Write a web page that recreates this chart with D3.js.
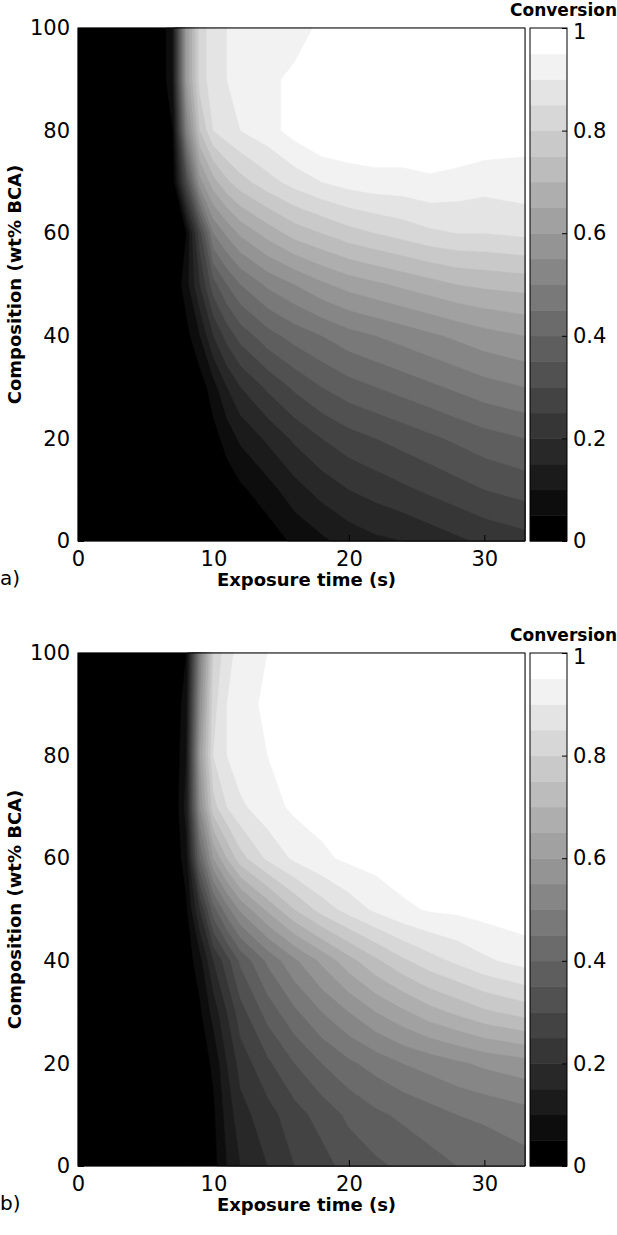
<!DOCTYPE html>
<html><head><meta charset="utf-8">
<script src="https://cdn.jsdelivr.net/npm/d3@7"></script>
<style>body{margin:0;background:#fff}svg{font-family:"DejaVu Sans",sans-serif}</style>
</head><body>
<svg id="chart" width="617" height="1235"></svg>
<script>
// grid columns (s) and rows (wt% BCA)
const times = [0,6,7,8,9,10,11,12,14,16,18,20,22,24,26,28,30,33];
const comps = [0,10,20,30,40,50,60,70,80,90,100];
const xTicks = [0,10,20,30];
const yTicks = [0,20,40,60,80,100];
const cbTicks = [0,0.2,0.4,0.6,0.8,1];
const levels = d3.range(20).map(i => i * 0.05);

// panel a) conversion, one row per composition
const convA = [
  [0,0,0,0,0,0,0,0,0.02,0.06,0.09,0.12,0.14,0.15,0.17,0.19,0.21,0.23],
  [0,0,0,0,0,0,0.02,0.04,0.08,0.13,0.17,0.2,0.22,0.24,0.26,0.28,0.3,0.32],
  [0,0,0,0,0,0.03,0.07,0.11,0.16,0.21,0.25,0.28,0.3,0.32,0.34,0.36,0.38,0.4],
  [0,0,0,0,0.02,0.08,0.15,0.2,0.26,0.31,0.35,0.38,0.4,0.42,0.44,0.46,0.48,0.5],
  [0,0,0,0.03,0.1,0.2,0.27,0.32,0.38,0.42,0.45,0.48,0.5,0.52,0.54,0.56,0.58,0.6],
  [0,0,0,0.08,0.2,0.33,0.4,0.45,0.51,0.55,0.59,0.62,0.64,0.66,0.68,0.7,0.71,0.72],
  [0,0,0,0.05,0.28,0.5,0.56,0.61,0.67,0.72,0.75,0.78,0.8,0.82,0.84,0.85,0.85,0.86],
  [0,0,0.02,0.3,0.58,0.68,0.74,0.78,0.83,0.87,0.9,0.92,0.93,0.93,0.94,0.93,0.92,0.93],
  [0,0,0.05,0.5,0.75,0.85,0.88,0.9,0.93,0.97,1,1,1,1,1,1,0.99,0.97],
  [0,0,0.1,0.6,0.82,0.88,0.9,0.92,0.94,0.96,1,1,1,1,1,1,1,1],
  [0,0,0.1,0.6,0.82,0.88,0.9,0.92,0.93,0.93,0.96,1,1,1,1,1,1,1]
];
// panel b) model
const convB = [
  [0,0,0,0,0,0.03,0.1,0.15,0.2,0.25,0.28,0.32,0.34,0.36,0.38,0.4,0.41,0.43],
  [0,0,0,0,0,0.04,0.12,0.18,0.23,0.28,0.32,0.36,0.39,0.41,0.43,0.45,0.46,0.48],
  [0,0,0,0,0.02,0.06,0.15,0.22,0.29,0.35,0.4,0.44,0.47,0.5,0.52,0.54,0.56,0.58],
  [0,0,0,0.01,0.04,0.12,0.2,0.28,0.37,0.44,0.5,0.55,0.6,0.64,0.68,0.71,0.74,0.77],
  [0,0,0,0.02,0.08,0.2,0.28,0.36,0.46,0.54,0.61,0.68,0.74,0.79,0.83,0.86,0.89,0.92],
  [0,0,0,0.04,0.2,0.38,0.48,0.56,0.66,0.75,0.82,0.87,0.91,0.94,0.955,0.96,0.97,0.98],
  [0,0,0,0.08,0.4,0.6,0.7,0.78,0.86,0.91,0.94,0.96,0.97,0.98,0.99,1,1,1],
  [0,0,0,0.12,0.55,0.78,0.85,0.89,0.93,0.96,0.97,0.99,1,1,1,1,1,1],
  [0,0,0,0.1,0.6,0.85,0.9,0.93,0.95,0.97,0.99,1,1,1,1,1,1,1],
  [0,0,0,0.08,0.55,0.83,0.9,0.93,0.96,0.98,1,1,1,1,1,1,1,1],
  [0,0,0,0.05,0.5,0.8,0.88,0.92,0.95,0.97,1,1,1,1,1,1,1,1]
];

const svg = d3.select("#chart");
const left = 78, right = 525, cbX = 530, cbW = 37;
const grey = d3.scaleLinear().domain([0, 0.95]).range(["#000", "#fff"]);

function panel(conv, top, bottom, tag) {
  const g = svg.append("g");
  const x = d3.scaleLinear().domain([0, 33]).range([left, right]);
  const y = d3.scaleLinear().domain([0, 100]).range([bottom, top]);
  //grid index (cell centres at i+0.5) -> data value
  const ix = d3.scaleLinear().domain(times.map((d, i) => i + 0.5)).range(times).clamp(true);
  const iy = d3.scaleLinear().domain(comps.map((d, i) => i + 0.5)).range(comps).clamp(true);
  const proj = d3.geoTransform({ point(px, py) { this.stream.point(x(ix(px)), y(iy(py))); } });
  const path = d3.geoPath(proj);
  const contours = d3.contours().size([times.length, comps.length]).smooth(true)
    .thresholds(levels)(conv.flat());
  g.selectAll("path.band").data(contours).join("path")
    .attr("d", path).attr("fill", d => grey(d.value)).attr("stroke", d => grey(d.value)).attr("stroke-width", 0.5);
  g.append("rect").attr("x", left).attr("y", top).attr("width", right - left).attr("height", bottom - top)
    .attr("fill", "none").attr("stroke", "#000");

  g.append("g").attr("transform", `translate(0,${bottom})`)
    .call(d3.axisBottom(x).tickValues(xTicks).tickSize(-6).tickPadding(10).tickSizeOuter(0))
    .call(a => a.select(".domain").remove())
    .call(a => a.selectAll("text").attr("font-size", 21).attr("font-family", "DejaVu Sans"));
  g.append("g").attr("transform", `translate(${left},0)`)
    .call(d3.axisLeft(y).tickValues(yTicks).tickSize(-6).tickPadding(8).tickSizeOuter(0))
    .call(a => a.select(".domain").remove())
    .call(a => a.selectAll("text").attr("font-size", 21).attr("font-family", "DejaVu Sans"));

  // colour bar
  const cy = d3.scaleLinear().domain([0, 1]).range([bottom, top]);
  g.selectAll("rect.cb").data(levels).join("rect")
    .attr("x", cbX).attr("width", cbW)
    .attr("y", d => cy(d + 0.05)).attr("height", d => cy(d) - cy(d + 0.05) + 0.5)
    .attr("fill", d => grey(d));
  g.append("rect").attr("x", cbX).attr("y", top).attr("width", cbW).attr("height", bottom - top)
    .attr("fill", "none").attr("stroke", "#000");
  g.append("g").attr("transform", `translate(${cbX + cbW},0)`)
    .call(d3.axisRight(cy).tickValues(cbTicks).tickFormat(d3.format("")).tickSize(-5).tickPadding(6).tickSizeOuter(0))
    .call(a => a.select(".domain").remove())
    .call(a => a.selectAll("text").attr("font-size", 21).attr("font-family", "DejaVu Sans"))
    .call(a => a.selectAll(".tick").filter(d => d === 1).select("text").attr("dy", "0.5em"));
  g.append("text").attr("x", 617).attr("y", top - 12).attr("text-anchor", "end")
    .attr("font-size", 17).attr("font-weight", "bold").text("Conversion");

  g.append("text").attr("x", (left + right) / 2 + 5).attr("y", bottom + 45).attr("text-anchor", "middle")
    .attr("font-size", 18).attr("font-weight", "bold").text("Exposure time (s)");
  g.append("text").attr("transform", `translate(21,${(top + bottom) / 2}) rotate(-90)`)
    .attr("text-anchor", "middle").attr("font-size", 18).attr("font-weight", "bold").text("Composition (wt% BCA)");
  g.append("text").attr("x", 0).attr("y", bottom + 44).attr("font-size", 20).text(tag);
}

panel(convA, 28, 541, "a)");
panel(convB, 653, 1166, "b)");
</script>
</body></html>
